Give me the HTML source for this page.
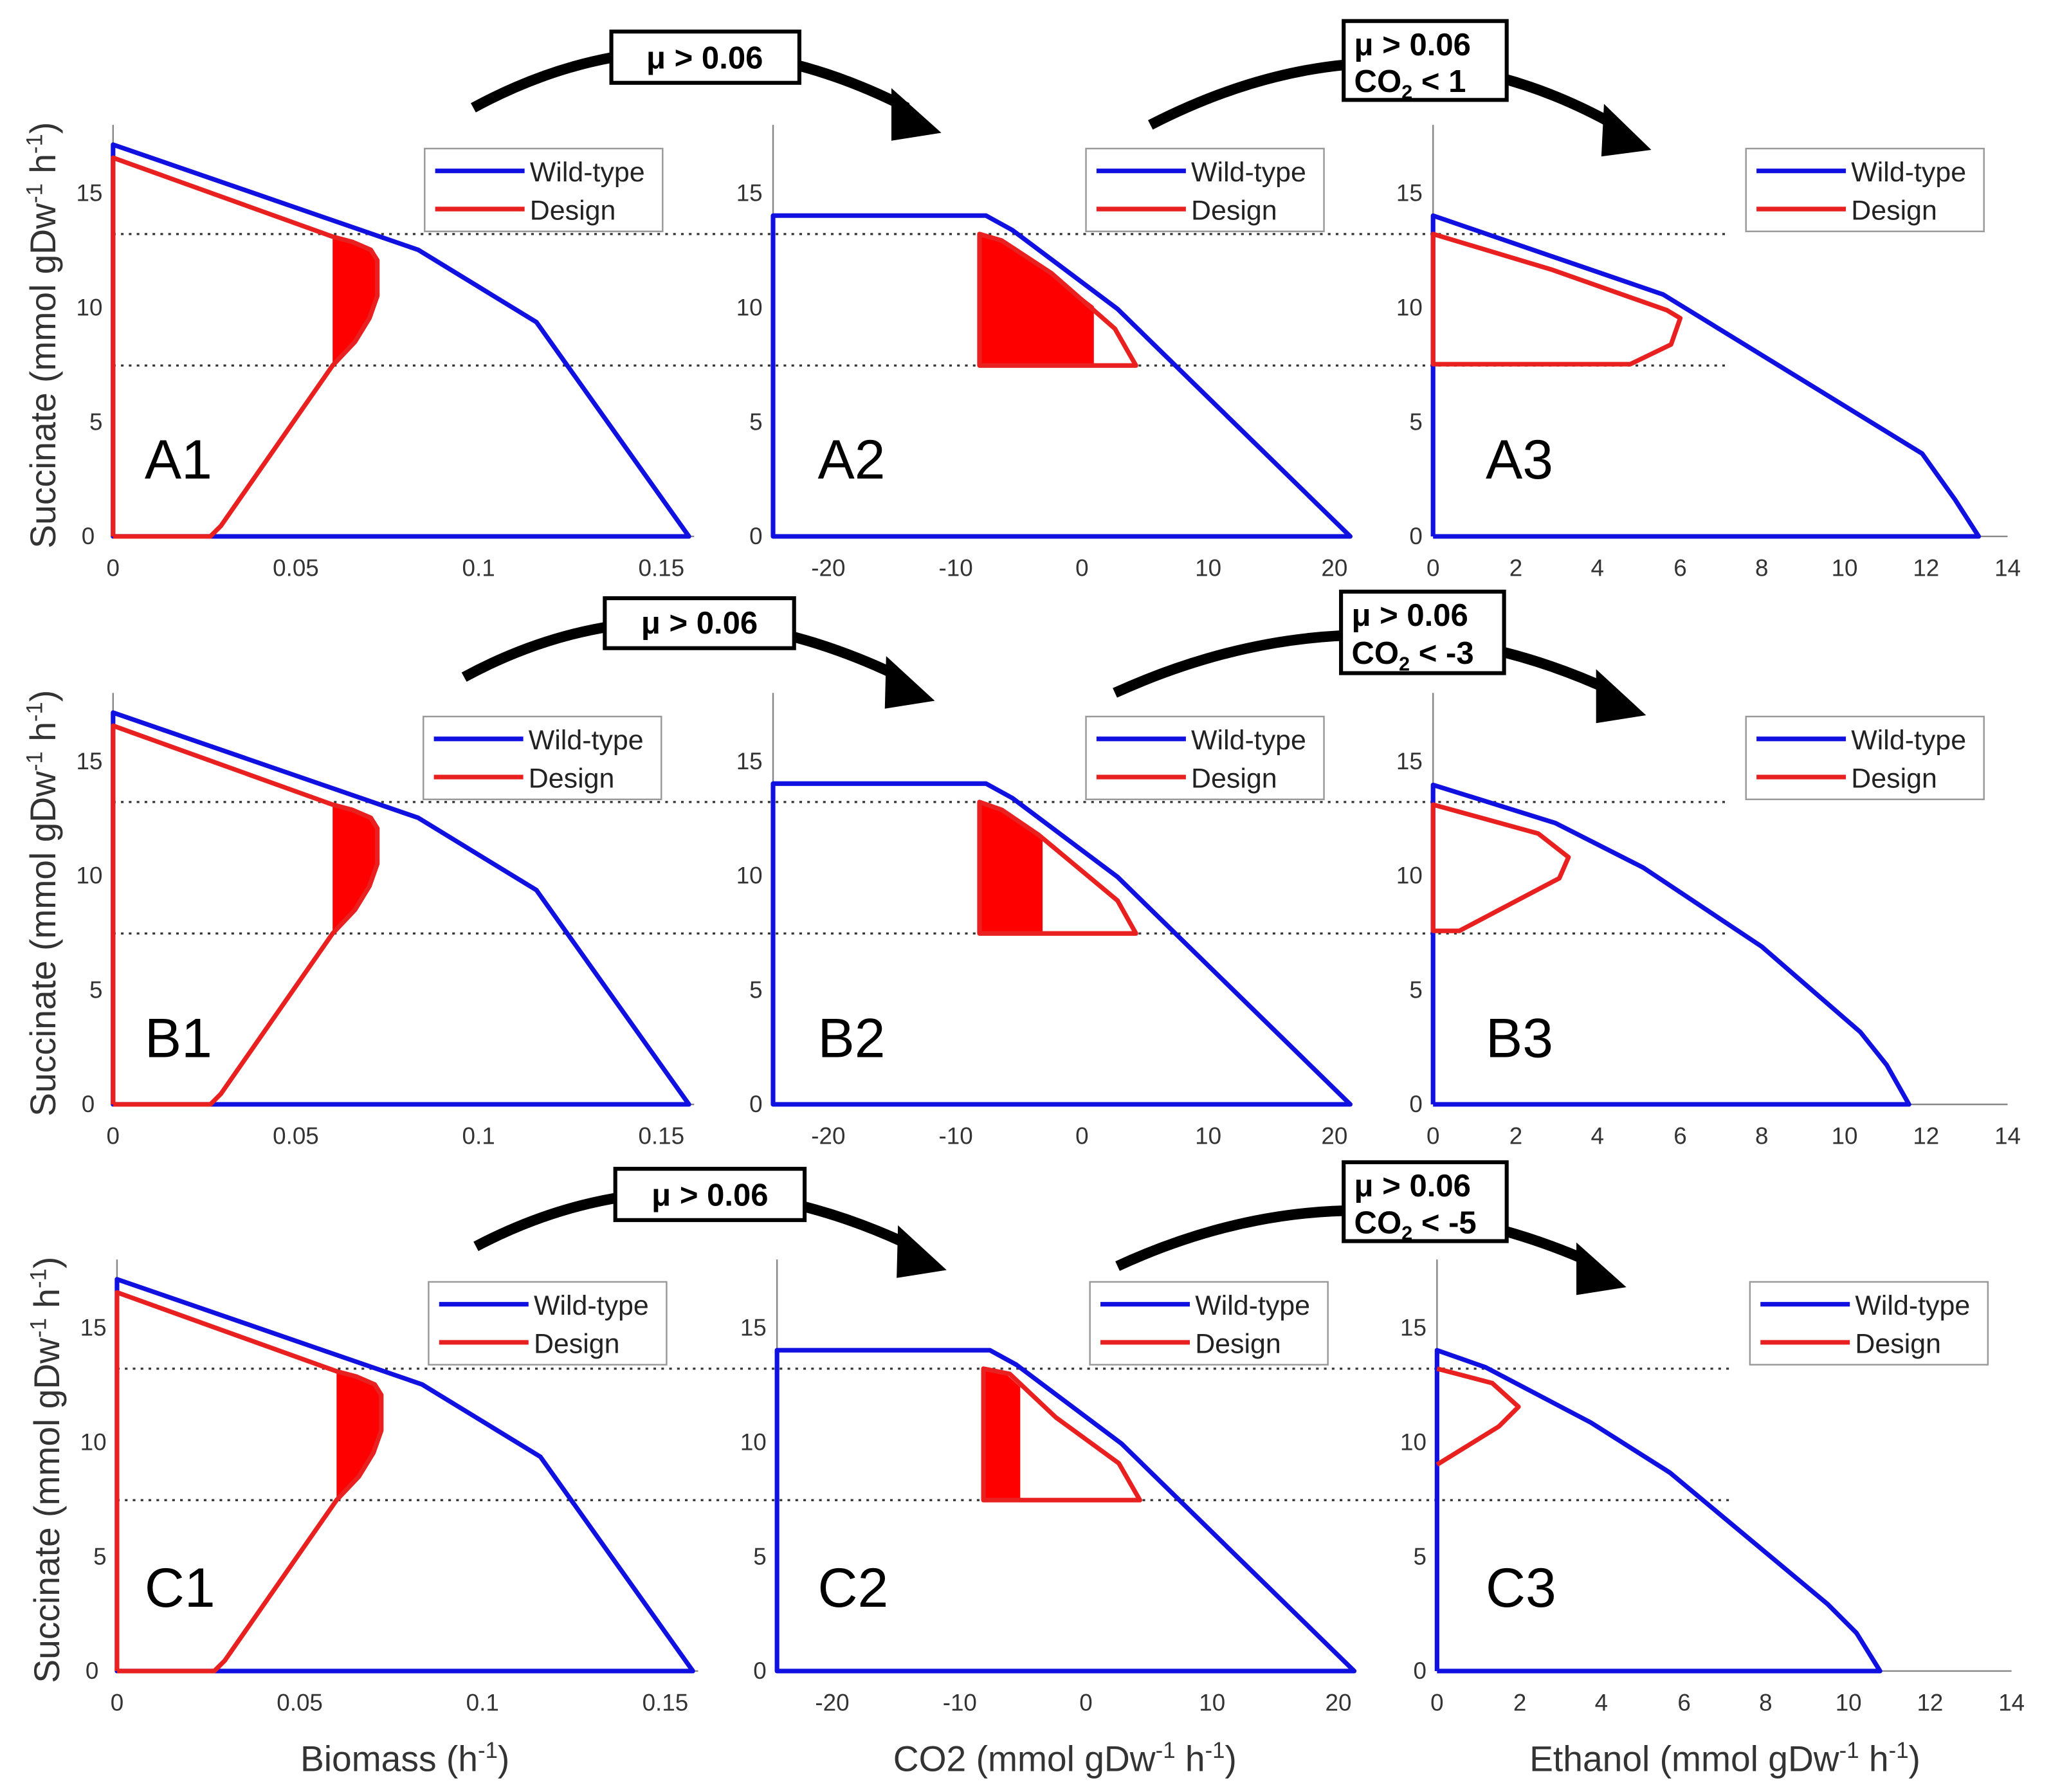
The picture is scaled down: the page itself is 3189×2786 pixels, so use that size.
<!DOCTYPE html>
<html><head><meta charset="utf-8"><style>
html,body{margin:0;padding:0;background:#fff;}
svg{display:block;}
text{font-family:"Liberation Sans",sans-serif;}
.tk{font-size:18px;fill:#333;}
.lg{font-size:21px;fill:#222;}
.pl{font-size:42px;fill:#000;}
.bx{font-size:24px;font-weight:bold;fill:#000;font-family:"Liberation Sans",sans-serif;}
.ax{font-size:27px;fill:#333;}
</style></head><body>
<svg width="3189" height="2786" viewBox="0 0 1560 1363" preserveAspectRatio="none" xmlns="http://www.w3.org/2000/svg">
<defs>
<g id="dots">
<line x1="86" y1="178" x2="1312" y2="178" stroke="#333" stroke-width="1.6" stroke-dasharray="2,4"/>
<line x1="86" y1="278" x2="1312" y2="278" stroke="#333" stroke-width="1.6" stroke-dasharray="2,4"/>
</g>
<g id="p1">
<line x1="86" y1="95" x2="86" y2="408" stroke="#888" stroke-width="1.2"/>
<line x1="86" y1="408" x2="528" y2="408" stroke="#888" stroke-width="1.2"/>
<polygon points="86,110 318,190 408,245 524,408 86,408" fill="none" stroke="#1010e0" stroke-width="3.5" stroke-linejoin="round"/>
<path d="M253,180 L268,184 L282,190 L287,198 L287,225 L281,242 L270,260 L253,278 Z" fill="#f00"/>
<polyline points="86,408 86,120 253,180 268,184 282,190 287,198 287,225 281,242 270,260 253,278 168,400 160,408 86,408" fill="none" stroke="#e82020" stroke-width="3.5" stroke-linejoin="round"/>
<text class="tk" x="72" y="414" text-anchor="end">0</text>
<text class="tk" x="78" y="327" text-anchor="end">5</text>
<text class="tk" x="78" y="240" text-anchor="end">10</text>
<text class="tk" x="78" y="153" text-anchor="end">15</text>
<text class="tk" x="86" y="438" text-anchor="middle">0</text>
<text class="tk" x="225" y="438" text-anchor="middle">0.05</text>
<text class="tk" x="364" y="438" text-anchor="middle">0.1</text>
<text class="tk" x="503" y="438" text-anchor="middle">0.15</text>
<text class="ax" transform="translate(42,255) rotate(-90)" text-anchor="middle">Succinate (mmol gDw<tspan dy="-10" font-size="17">-1</tspan><tspan dy="10"> h</tspan><tspan dy="-10" font-size="17">-1</tspan><tspan dy="10">)</tspan></text>
</g>
<g id="p2axes">
<line x1="588" y1="95" x2="588" y2="408" stroke="#888" stroke-width="1.2"/>
<polygon points="588,408 588,164 750,164 770,175 850,235 1027,408" fill="none" stroke="#1010e0" stroke-width="3.5" stroke-linejoin="round"/>
<text class="tk" x="580" y="414" text-anchor="end">0</text>
<text class="tk" x="580" y="327" text-anchor="end">5</text>
<text class="tk" x="580" y="240" text-anchor="end">10</text>
<text class="tk" x="580" y="153" text-anchor="end">15</text>
<text class="tk" x="630" y="438" text-anchor="middle">-20</text>
<text class="tk" x="727" y="438" text-anchor="middle">-10</text>
<text class="tk" x="823" y="438" text-anchor="middle">0</text>
<text class="tk" x="919" y="438" text-anchor="middle">10</text>
<text class="tk" x="1015" y="438" text-anchor="middle">20</text>
</g>
<g id="p3axes">
<line x1="1090" y1="95" x2="1090" y2="408" stroke="#888" stroke-width="1.2"/>
<line x1="1090" y1="408" x2="1527" y2="408" stroke="#888" stroke-width="1.2"/>
<text class="tk" x="1082" y="414" text-anchor="end">0</text>
<text class="tk" x="1082" y="327" text-anchor="end">5</text>
<text class="tk" x="1082" y="240" text-anchor="end">10</text>
<text class="tk" x="1082" y="153" text-anchor="end">15</text>
<text class="tk" x="1090" y="438" text-anchor="middle">0</text>
<text class="tk" x="1153" y="438" text-anchor="middle">2</text>
<text class="tk" x="1215" y="438" text-anchor="middle">4</text>
<text class="tk" x="1278" y="438" text-anchor="middle">6</text>
<text class="tk" x="1340" y="438" text-anchor="middle">8</text>
<text class="tk" x="1403" y="438" text-anchor="middle">10</text>
<text class="tk" x="1465" y="438" text-anchor="middle">12</text>
<text class="tk" x="1527" y="438" text-anchor="middle">14</text>
</g>
<g id="leg">
<rect x="0" y="0" width="181" height="63" fill="#fff" stroke="#999" stroke-width="1.2"/>
<line x1="8" y1="17" x2="76" y2="17" stroke="#1010e0" stroke-width="3.5"/>
<line x1="8" y1="46" x2="76" y2="46" stroke="#e82020" stroke-width="3.5"/>
<text class="lg" x="80" y="25">Wild-type</text>
<text class="lg" x="80" y="54">Design</text>
</g>
</defs>

<!-- Row A -->
<g>
<use href="#dots"/>
<use href="#p1"/>
<use href="#p2axes"/>
<path d="M745,178 L762,183 L800,208 L832,233 L832,278 L745,278 Z" fill="#f00"/>
<polygon points="745,178 762,183 800,208 848,250 864,278 745,278" fill="none" stroke="#e82020" stroke-width="3.5" stroke-linejoin="round"/>
<use href="#p3axes"/>
<polyline points="1090,408 1090,164 1265,224 1462,345 1487,380 1505,408 1090,408" fill="none" stroke="#1010e0" stroke-width="3.5" stroke-linejoin="round"/>
<polygon points="1090,178 1180,205 1268,236 1278,242 1271,262 1240,277 1090,277" fill="none" stroke="#e82020" stroke-width="3.5" stroke-linejoin="round"/>
<use href="#leg" x="323" y="113"/>
<use href="#leg" x="826" y="113"/>
<use href="#leg" x="1328" y="113"/>
<text class="pl" x="110" y="364">A1</text>
<text class="pl" x="622" y="364">A2</text>
<text class="pl" x="1130" y="364">A3</text>
</g>

<!-- Row B -->
<g transform="translate(0,432)">
<use href="#dots"/>
<use href="#p1"/>
<use href="#p2axes"/>
<path d="M745,178 L762,184 L793,204 L793,278 L745,278 Z" fill="#f00"/>
<polygon points="745,178 762,184 790,203 850,253 864,278 745,278" fill="none" stroke="#e82020" stroke-width="3.5" stroke-linejoin="round"/>
<use href="#p3axes"/>
<polyline points="1090,408 1090,165 1183,194 1250,228 1340,288 1415,353 1435,378 1452,408 1090,408" fill="none" stroke="#1010e0" stroke-width="3.5" stroke-linejoin="round"/>
<polygon points="1090,180 1170,202 1193,220 1186,236 1110,276 1090,276" fill="none" stroke="#e82020" stroke-width="3.5" stroke-linejoin="round"/>
<use href="#leg" x="322" y="113"/>
<use href="#leg" x="826" y="113"/>
<use href="#leg" x="1328" y="113"/>
<text class="pl" x="110" y="372">B1</text>
<text class="pl" x="622" y="372">B2</text>
<text class="pl" x="1130" y="372">B3</text>
</g>

<!-- Row C -->
<g transform="translate(3,863)">
<use href="#dots"/>
<use href="#p1"/>
<use href="#p2axes"/>
<path d="M745,178 L760,180 L773,192 L773,278 L745,278 Z" fill="#f00"/>
<polygon points="745,178 765,182 800,215 848,250 864,278 745,278" fill="none" stroke="#e82020" stroke-width="3.5" stroke-linejoin="round"/>
<use href="#p3axes"/>
<polyline points="1090,408 1090,164 1127,177 1207,219 1267,257 1387,357 1409,379 1427,408 1090,408" fill="none" stroke="#1010e0" stroke-width="3.5" stroke-linejoin="round"/>
<polyline points="1090,178 1132,189 1152,207 1137,222 1090,251" fill="none" stroke="#e82020" stroke-width="3.5" stroke-linejoin="round"/>
<use href="#leg" x="323" y="112"/>
<use href="#leg" x="826" y="112"/>
<use href="#leg" x="1328" y="112"/>
<text class="pl" x="107" y="359">C1</text>
<text class="pl" x="619" y="359">C2</text>
<text class="pl" x="1127" y="359">C3</text>
</g>

<!-- Arrows row A -->
<path d="M360,82 Q520,-5 690,82" fill="none" stroke="#000" stroke-width="8"/>
<polygon points="678,67 716,101 678,107" fill="#000"/>
<rect x="465" y="24" width="143" height="39" fill="#fff" stroke="#000" stroke-width="3"/>
<text class="bx" x="536" y="52" text-anchor="middle">μ &gt; 0.06</text>
<path d="M875,95 Q1060,0 1230,96" fill="none" stroke="#000" stroke-width="8"/>
<polygon points="1220,79 1256,114 1218,119" fill="#000"/>
<rect x="1022" y="16" width="124" height="60" fill="#fff" stroke="#000" stroke-width="3"/>
<text class="bx" x="1030" y="42">μ &gt; 0.06</text>
<text class="bx" x="1030" y="70">CO<tspan font-size="15" dy="5">2</tspan><tspan dy="-5"> &lt; 1</tspan></text>

<!-- Arrows row B -->
<path d="M353,515 Q510,430 685,515" fill="none" stroke="#000" stroke-width="8"/>
<polygon points="674,499 711,533 673,539" fill="#000"/>
<rect x="460" y="455" width="144" height="38" fill="#fff" stroke="#000" stroke-width="3"/>
<text class="bx" x="532" y="482" text-anchor="middle">μ &gt; 0.06</text>
<path d="M848,527 Q1040,440 1225,525" fill="none" stroke="#000" stroke-width="8"/>
<polygon points="1214,509 1252,544 1214,550" fill="#000"/>
<rect x="1020" y="450" width="124" height="62" fill="#fff" stroke="#000" stroke-width="3"/>
<text class="bx" x="1028" y="476">μ &gt; 0.06</text>
<text class="bx" x="1028" y="505">CO<tspan font-size="15" dy="5">2</tspan><tspan dy="-5"> &lt; -3</tspan></text>

<!-- Arrows row C -->
<path d="M362,948 Q520,865 694,948" fill="none" stroke="#000" stroke-width="8"/>
<polygon points="683,932 720,966 682,972" fill="#000"/>
<rect x="468" y="889" width="144" height="39" fill="#fff" stroke="#000" stroke-width="3"/>
<text class="bx" x="540" y="917" text-anchor="middle">μ &gt; 0.06</text>
<path d="M850,963 Q1030,880 1210,960" fill="none" stroke="#000" stroke-width="8"/>
<polygon points="1199,945 1237,979 1199,985" fill="#000"/>
<rect x="1022" y="884" width="124" height="60" fill="#fff" stroke="#000" stroke-width="3"/>
<text class="bx" x="1030" y="910">μ &gt; 0.06</text>
<text class="bx" x="1030" y="938">CO<tspan font-size="15" dy="5">2</tspan><tspan dy="-5"> &lt; -5</tspan></text>

<!-- x labels -->
<text class="ax" x="308" y="1347" text-anchor="middle">Biomass (h<tspan dy="-10" font-size="17">-1</tspan><tspan dy="10">)</tspan></text>
<text class="ax" x="810" y="1347" text-anchor="middle">CO2 (mmol gDw<tspan dy="-10" font-size="17">-1</tspan><tspan dy="10"> h</tspan><tspan dy="-10" font-size="17">-1</tspan><tspan dy="10">)</tspan></text>
<text class="ax" x="1312" y="1347" text-anchor="middle">Ethanol (mmol gDw<tspan dy="-10" font-size="17">-1</tspan><tspan dy="10"> h</tspan><tspan dy="-10" font-size="17">-1</tspan><tspan dy="10">)</tspan></text>
</svg>
</body></html>
